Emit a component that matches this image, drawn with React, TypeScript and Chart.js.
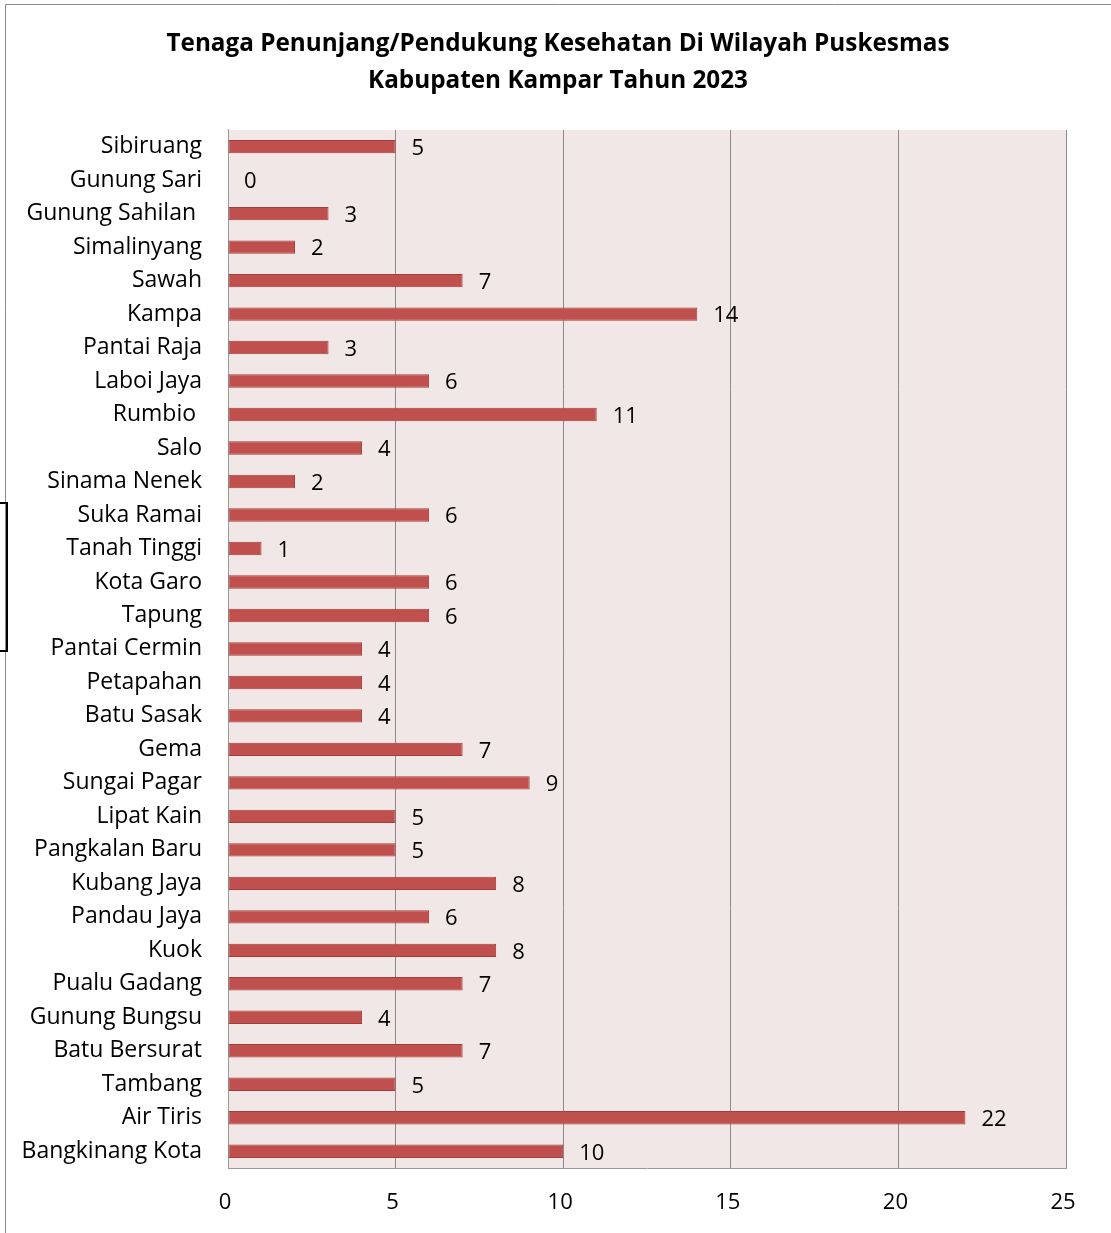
import React, { useEffect, useRef } from "react";
import { Chart, registerables } from "chart.js";

Chart.register(...registerables);

const categories = [
  "Sibiruang", "Gunung Sari", "Gunung Sahilan ", "Simalinyang", "Sawah", "Kampa",
  "Pantai Raja", "Laboi Jaya", "Rumbio ", "Salo", "Sinama Nenek", "Suka Ramai",
  "Tanah Tinggi", "Kota Garo", "Tapung", "Pantai Cermin", "Petapahan", "Batu Sasak",
  "Gema", "Sungai Pagar", "Lipat Kain", "Pangkalan Baru", "Kubang Jaya", "Pandau Jaya",
  "Kuok", "Pualu Gadang", "Gunung Bungsu", "Batu Bersurat", "Tambang", "Air Tiris",
  "Bangkinang Kota",
];
const values = [5, 0, 3, 2, 7, 14, 3, 6, 11, 4, 2, 6, 1, 6, 6, 4, 4, 4, 7, 9, 5, 5, 8, 6, 8, 7, 4, 7, 5, 22, 10];
const titleLines = [
  "Tenaga Penunjang/Pendukung Kesehatan Di Wilayah Puskesmas",
  "Kabupaten Kampar Tahun 2023",
];
const xMax = 25;
const xStep = 5;

const FONT = "'Open Sans', 'Noto Sans', sans-serif";

const bgPlugin = {
  id: "plotBg",
  afterLayout(chart: any) {
    const t = chart.titleBlock;
    if (t) {
      t.left = 5;
      t.right = chart.width;
      t.width = chart.width - 5;
    }
  },
  beforeDraw(chart: any) {
    const { ctx, chartArea } = chart;
    ctx.save();
    ctx.fillStyle = "#ffffff";
    ctx.fillRect(0, 0, chart.width, chart.height);
    ctx.fillStyle = "#F2E7E7";
    ctx.fillRect(chartArea.left, chartArea.top, chartArea.right - chartArea.left, chartArea.bottom - chartArea.top);
    ctx.strokeStyle = "#8a8a8a";
    ctx.lineWidth = 1;
    ctx.beginPath();
    ctx.moveTo(5.5, chart.height);
    ctx.lineTo(5.5, 4.5);
    ctx.lineTo(chart.width, 4.5);
    ctx.stroke();
    ctx.restore();
  },
};

const labelPlugin = {
  id: "valueLabels",
  afterDatasetsDraw(chart: any) {
    const { ctx } = chart;
    const meta = chart.getDatasetMeta(0);
    ctx.save();
    ctx.font = `22px ${FONT}`;
    ctx.fillStyle = "#000000";
    ctx.textAlign = "left";
    ctx.textBaseline = "middle";
    meta.data.forEach((bar: any, i: number) => {
      ctx.fillText(String(values[i]), bar.x + 16, bar.y + 2);
    });
    ctx.restore();
  },
};

export default function App() {
  const ref = useRef<HTMLCanvasElement>(null);
  useEffect(() => {
    if (!ref.current) return;
    const chart = new Chart(ref.current, {
      type: "bar",
      data: {
        labels: categories,
        datasets: [
          {
            data: values,
            backgroundColor: "#C0504D",
            borderColor: "#A03F3C",
            borderWidth: 1,
            borderSkipped: false,
            barPercentage: 0.4,
            categoryPercentage: 1,
          },
        ],
      },
      options: {
        indexAxis: "y",
        animation: false,
        responsive: false,
        maintainAspectRatio: false,
        layout: { padding: { left: 0, right: 45, top: 0, bottom: 17 } },
        plugins: {
          legend: { display: false },
          tooltip: { enabled: false },
          title: {
            display: true,
            text: titleLines,
            color: "#000000",
            font: { family: FONT, size: 24.3, weight: "bold", lineHeight: 1.5 },
            padding: { top: 26, bottom: 31 },
          },
        },
        scales: {
          x: {
            min: 0,
            max: xMax,
            ticks: {
              stepSize: xStep,
              color: "#000000",
              padding: 22,
              labelOffset: -3,
              font: { family: FONT, size: 22 },
            },
            grid: { color: "#8c8c8c", lineWidth: 1, drawTicks: false },
            border: { display: true, color: "#9a9a9a" },
            afterFit(scale: any) {
              scale.height = 48;
            },
          },
          y: {
            ticks: {
              color: "#000000",
              padding: 26,
              autoSkip: false,
              font: { family: FONT, size: 23 },
            },
            grid: { display: false, drawTicks: false },
            border: { display: true, color: "#9a9a9a" },
            afterFit(scale: any) {
              scale.width = 228;
            },
          },
        },
      },
      plugins: [bgPlugin, labelPlugin],
    });
    return () => chart.destroy();
  }, []);

  return (
    <div style={{ position: "absolute", left: 0, top: 0, width: 1111, height: 1233, overflow: "hidden", background: "#fff" }}>
      <canvas ref={ref} width={1111} height={1233} style={{ display: "block" }} />
      <div
        style={{
          position: "absolute",
          left: -10,
          top: 502,
          width: 14,
          height: 146,
          border: "2px solid #000",
        }}
      />
    </div>
  );
}
